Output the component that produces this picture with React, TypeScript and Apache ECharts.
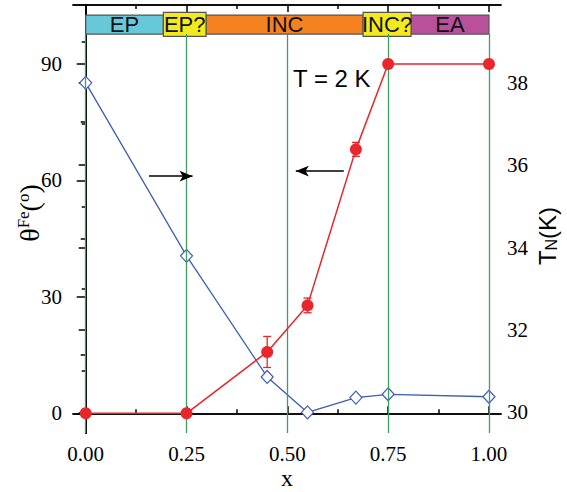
import React, { useEffect, useRef } from 'react';
import * as echarts from 'echarts';

// ---- data ----
const xValues = [0, 0.25, 0.45, 0.55, 0.67, 0.75, 1.0];
const thetaValues = [0, 0, 15.8, 27.8, 68.0, 90.0, 90.0];
const thetaErrors = [0, 0, 4.0, 1.9, 1.8, 0, 0];
const tnValues = [38.0, 33.8, 30.86, 30.0, 30.36, 30.44, 30.38];

const xTicks = [0, 0.25, 0.5, 0.75, 1.0];
const xMinorTicks = [0.125, 0.375, 0.625, 0.875];
const thetaTicks = [0, 30, 60, 90];
const thetaMinorTicks = [15, 45, 75];
const tnTicks = [30, 32, 34, 36, 38];
const tnMinorTicks = [31, 33, 35, 37, 39];

const phaseNames = ['EP', 'INC', 'EA', 'EP?', 'INC?'];
const phaseStart = [0, 0.2984, 0.8068, 0.1925, 0.6878];
const phaseEnd = [0.1925, 0.6878, 1.0, 0.2984, 0.8068];
const phaseColors = ['#67c8da', '#f58220', '#b8509b', '#f2ea1c', '#f2ea1c'];
const phaseTall = [false, false, false, true, true];

const guideLines = [0, 0.25, 0.5, 0.75, 1.0];

const arrowFrom = [[0.157, 61.1], [0.640, 62.4]];
const arrowTo = [[0.265, 61.1], [0.521, 62.4]];

// ---- ranges ----
const X_MIN = -0.0315;
const X_MAX = 1.0298;
const TH_MIN = -5.08;
const TH_MAX = 105.2;
const TN_MIN = 29.5;
const TN_MAX = 39.89;
const BAR_LO = 97.7;
const BAR_HI = 102.6;
const TALL_LO = 97.1;
const TALL_HI = 103.3;

const RED = '#e8262b';
const BLUE = '#3d5db3';
const GREEN = '#3f9f63';
const SERIF = "'Liberation Serif', 'Times New Roman', 'DejaVu Serif', serif";
const SANS = "'Liberation Sans', Arial, 'DejaVu Sans', sans-serif";

function App() {
  const ref = useRef<HTMLDivElement>(null);
  useEffect(() => {
    if (!ref.current) return;
    const chart = echarts.init(ref.current, null, { renderer: 'svg' });

    const axisLine = { show: true, lineStyle: { color: '#000', width: 1.5 } };
    const tickStyle = { color: '#000', width: 1.5 };
    const noLabel = { show: false };
    const noSplit = { show: false };

    const xAxisBase = { type: 'value', min: X_MIN, max: X_MAX, splitLine: noSplit, axisLine };
    const xAxis = [
      {
        ...xAxisBase,
        position: 'bottom',
        axisTick: { show: true, inside: true, length: 7, lineStyle: tickStyle, customValues: xTicks },
        axisLabel: {
          show: true,
          customValues: xTicks,
          formatter: (v: number) => v.toFixed(2),
          fontFamily: SERIF,
          fontSize: 21,
          color: '#000',
          margin: 10,
        },
      },
      {
        ...xAxisBase,
        position: 'bottom',
        axisTick: { show: true, inside: true, length: 4, lineStyle: tickStyle, customValues: xMinorTicks },
        axisLabel: noLabel,
      },
      {
        ...xAxisBase,
        position: 'top',
        axisTick: { show: true, inside: true, length: 7, lineStyle: tickStyle, customValues: xTicks },
        axisLabel: noLabel,
      },
      {
        ...xAxisBase,
        position: 'top',
        axisTick: { show: true, inside: true, length: 4, lineStyle: tickStyle, customValues: xMinorTicks },
        axisLabel: noLabel,
      },
    ];

    const thBase = { type: 'value', min: TH_MIN, max: TH_MAX, splitLine: noSplit, axisLine, position: 'left' };
    const tnBase = { type: 'value', min: TN_MIN, max: TN_MAX, splitLine: noSplit, axisLine, position: 'right' };
    const yAxis = [
      {
        ...thBase,
        axisTick: { show: true, inside: false, length: 9, lineStyle: tickStyle, customValues: thetaTicks },
        axisLabel: {
          show: true,
          customValues: thetaTicks,
          fontFamily: SERIF,
          fontSize: 21,
          color: '#000',
          margin: 11,
        },
      },
      {
        ...tnBase,
        axisTick: { show: true, inside: true, length: 7, lineStyle: tickStyle, customValues: tnTicks },
        axisLabel: {
          show: true,
          customValues: tnTicks,
          fontFamily: SERIF,
          fontSize: 21,
          color: '#000',
          margin: 6,
        },
      },
      {
        ...thBase,
        axisTick: { show: true, inside: false, length: 5, lineStyle: tickStyle, customValues: thetaMinorTicks },
        axisLabel: noLabel,
      },
      {
        ...tnBase,
        axisTick: { show: true, inside: true, length: 4, lineStyle: tickStyle, customValues: tnMinorTicks },
        axisLabel: noLabel,
      },
    ];

    const phaseAreas = phaseNames.map((name, i) => [
      {
        name,
        xAxis: phaseStart[i],
        yAxis: phaseTall[i] ? TALL_LO : BAR_LO,
        itemStyle: { color: phaseColors[i], borderColor: '#555', borderWidth: 1.2, opacity: 1 },
      },
      { xAxis: phaseEnd[i], yAxis: phaseTall[i] ? TALL_HI : BAR_HI },
    ]);

    const option = {
      animation: false,
      grid: { left: 73, top: 5, width: 428, height: 428, containLabel: false },
      xAxis,
      yAxis,
      series: [
        {
          name: 'guides',
          type: 'line',
          xAxisIndex: 0,
          yAxisIndex: 0,
          data: [],
          silent: true,
          z: 1,
          markLine: {
            silent: true,
            symbol: ['none', 'none'],
            label: { show: false },
            lineStyle: { color: GREEN, width: 1.3, type: 'solid' },
            data: guideLines.map((g) => [
              { coord: [g, TH_MIN] },
              { coord: [g, BAR_LO] },
            ]),
          },
          markArea: {
            silent: true,
            label: { show: true, position: 'inside', color: '#111', fontFamily: SANS, fontSize: 22 },
            data: phaseAreas,
          },
        },
        {
          name: 'arrows',
          type: 'line',
          xAxisIndex: 0,
          yAxisIndex: 0,
          data: [],
          silent: true,
          z: 6,
          markLine: {
            silent: true,
            symbol: ['none', 'arrow'],
            symbolSize: [8, 13],
            label: { show: false },
            lineStyle: { color: '#000', width: 1.6, type: 'solid' },
            itemStyle: { color: '#000' },
            data: arrowFrom.map((f, i) => [{ coord: f }, { coord: arrowTo[i] }]),
          },
        },
        {
          name: 'TN',
          type: 'line',
          xAxisIndex: 0,
          yAxisIndex: 1,
          data: xValues.map((x, i) => [x, tnValues[i]]),
          symbol: 'diamond',
          symbolSize: [12, 13],
          lineStyle: { color: BLUE, width: 1.3 },
          itemStyle: { color: '#fff', borderColor: BLUE, borderWidth: 1.2 },
          z: 3,
        },
        {
          name: 'thetaErr',
          type: 'custom',
          xAxisIndex: 0,
          yAxisIndex: 0,
          z: 4,
          data: xValues.map((x, i) => [x, thetaValues[i], thetaErrors[i]]),
          renderItem: (params: any, api: any) => {
            const x = api.value(0);
            const y = api.value(1);
            const e = api.value(2);
            if (!e) return null;
            const top = api.coord([x, y + e]);
            const bot = api.coord([x, y - e]);
            const w = 4;
            const style = { stroke: RED, lineWidth: 1.3 };
            return {
              type: 'group',
              children: [
                { type: 'line', shape: { x1: top[0], y1: top[1], x2: bot[0], y2: bot[1] }, style },
                { type: 'line', shape: { x1: top[0] - w, y1: top[1], x2: top[0] + w, y2: top[1] }, style },
                { type: 'line', shape: { x1: bot[0] - w, y1: bot[1], x2: bot[0] + w, y2: bot[1] }, style },
              ],
            };
          },
        },
        {
          name: 'theta',
          type: 'line',
          xAxisIndex: 0,
          yAxisIndex: 0,
          data: xValues.map((x, i) => [x, thetaValues[i]]),
          symbol: 'circle',
          symbolSize: 12,
          lineStyle: { color: RED, width: 1.5 },
          itemStyle: { color: RED },
          z: 5,
        },
      ],
      graphic: [
        {
          type: 'text',
          left: 293,
          top: 66,
          style: { text: 'T = 2 K', fontFamily: SANS, fontSize: 24, fill: '#000' },
          z: 10,
        },
        {
          type: 'text',
          x: 287,
          y: 478,
          style: {
            text: 'x',
            fontFamily: SERIF,
            fontSize: 24,
            fill: '#000',
            align: 'center',
            verticalAlign: 'middle',
          },
        },
        {
          type: 'text',
          x: 29,
          y: 213,
          rotation: Math.PI / 2,
          style: {
            text: '{a|θ}{s|Fe}{a|(}{s|o}{a|)}',
            align: 'center',
            verticalAlign: 'middle',
            fill: '#000',
            rich: {
              a: { fontFamily: SERIF, fontSize: 28, fill: '#000', verticalAlign: 'bottom' },
              s: { fontFamily: SERIF, fontSize: 17, fill: '#000', verticalAlign: 'top' },
            },
          },
        },
        {
          type: 'text',
          x: 547,
          y: 236,
          rotation: Math.PI / 2,
          style: {
            text: '{a|T}{n|N}{a|(K)}',
            align: 'center',
            verticalAlign: 'middle',
            fill: '#000',
            rich: {
              a: { fontFamily: SANS, fontSize: 24, fill: '#000', verticalAlign: 'top' },
              n: { fontFamily: SANS, fontSize: 16, fill: '#000', verticalAlign: 'bottom' },
            },
          },
        },
      ],
    };

    chart.setOption(option as any);
    return () => {
      chart.dispose();
    };
  }, []);

  return (
    <div
      ref={ref}
      style={{ position: 'absolute', left: 0, top: 0, width: 567, height: 492 }}
    />
  );
}

export default App;
